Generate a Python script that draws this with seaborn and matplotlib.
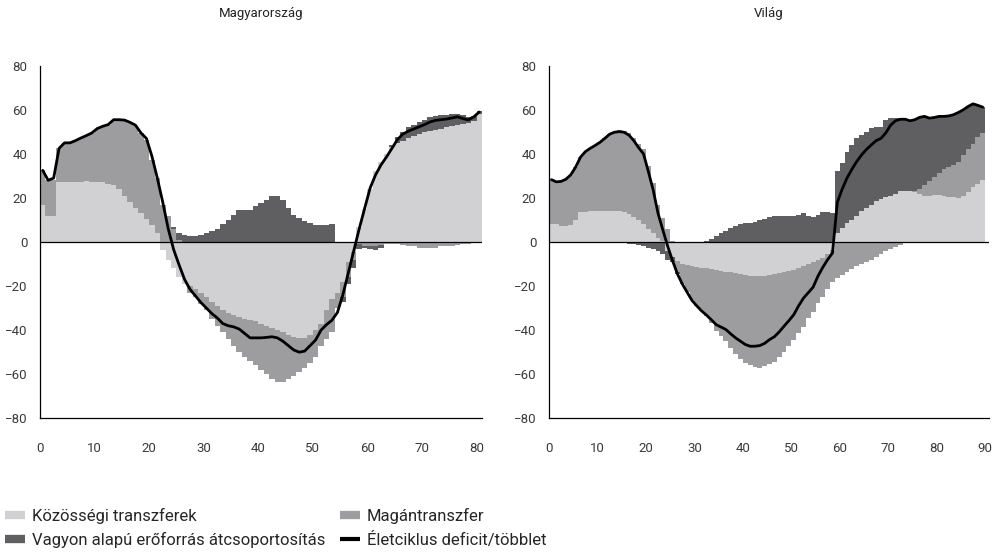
import numpy as np
import pandas as pd
import matplotlib
matplotlib.use("Agg")
import matplotlib.pyplot as plt
import seaborn as sns
from matplotlib.lines import Line2D

# Magyarország, életkor 0-80
hu_age = list(range(81))
hu_public = [17, 12, 12, 27, 27, 27, 27, 27, 27.5, 27,
             27, 27, 26.5, 26, 24, 21, 18, 15.5, 13, 10.5,
             7.5, 4, -3.5, -8, -12, -16, -19, -20, -21.5, -23,
             -25, -27, -29, -31, -32, -33, -34, -35, -35.5, -36,
             -37, -38, -39, -40, -41, -42, -43, -43.5, -43.5, -42,
             -40, -37, -31, -26, -23, -18, -9, -4.5, 7, 15,
             24, 32, 36.5, 40, 43, 45, 46, 47, 48, 49,
             50, 50.5, 51, 51.5, 52, 52.5, 53, 53.5, 54, 55, 58]
hu_private = [15.5, 16, 16, 15.5, 18, 18, 19, 20, 21, 22.5,
              24.5, 25.5, 26.5, 29.5, 31.5, 34, 36, 37, 36.5, 36,
              29.5, 25, 17, 12, 6, 1, 0, -3, -3.5, -5,
              -6, -8, -9, -10, -12, -14, -16, -17, -18.5, -20,
              -21, -22, -23, -23.5, -22.5, -20, -18, -15.5, -13.5, -13,
              -12, -10, -13, -15, -7, -7, -7, -3.5, -1, -2,
              -2, -2, -1.5, -1, -1, -1, -1.5, -2, -2, -2.5,
              -2.5, -2.5, -2.5, -2, -2, -2, -1.5, -1, -1, -0.5, -0.5]
hu_asset = [0, 0, 0, 0, 0, 0, 0, 0, 0, 0,
            0, 0, 0, 0, 0, 0, 0, 0, 0, 0,
            0, 0, 0, 0, 1, 3, 3, 2.5, 2.5, 3,
            4, 5, 6, 8, 10, 12.4, 14.7, 14.7, 14.7, 16.2,
            17.7, 19.2, 21.1, 21.1, 18.9, 15.4, 12.4, 10.9, 9.4, 8.6,
            7.9, 7.9, 7.9, 8.3, 0, -2, -3, -4, -2, -0.5,
            -1, -1.5, -1, 0, 1, 2.5, 4, 5, 5, 5.5,
            5.5, 6, 6, 6, 5.5, 5.5, 5, 4, 2.5, 2, 1.5]
hu_lcd = [32.5, 28, 29, 42.5, 45, 45, 46, 47.2, 48.3, 49.5,
          51.5, 52.5, 53.3, 55.5, 55.5, 55.3, 54.3, 53, 49.5, 47,
          39, 29, 18, 6, -3.5, -10.5, -17, -21.5, -24.5, -27.5,
          -30, -32.5, -34.5, -37, -38, -38.5, -39.5, -41.5, -43.5, -43.5,
          -43.5, -43.3, -43, -43.5, -45, -47, -49, -50, -49.5, -47,
          -44.5, -40, -37.5, -35.5, -32, -24, -14, -4, 6, 15.3,
          24.5, 30.5, 35, 38.6, 42.5, 46.5, 49, 50.3, 51.3, 52.3,
          53.3, 54.5, 55.2, 55.5, 55.8, 56.3, 56.8, 56, 55.4, 56.8, 59]

# Világ, életkor 0-89
wo_age = list(range(90))
wo_public = [8, 8, 7.3, 7.3, 7.5, 10, 13.5, 13.8, 14, 14,
             14, 14, 14, 14.2, 14.2, 13.5, 12.5, 11.5, 10, 8,
             6, 4, 2, 0.5, -4, -7, -8.5, -9.8, -10.3, -10.8,
             -11.3, -11.7, -12, -12.4, -12.8, -13.1, -13.4, -13.8, -14.2, -14.6,
             -15, -15.3, -15.5, -15.5, -15.3, -15, -14.6, -14.1, -13.6, -13.1,
             -12.5, -11.8, -11, -10.2, -9.3, -8.3, -7.2, -5.5, -3.5, 4,
             6.5, 8.5, 10, 12, 14, 15.5, 17, 18.5, 19.5, 20.5,
             21, 22, 23, 23, 23, 22.5, 22, 21, 21, 21.5,
             21.5, 21, 20.5, 20.5, 20, 21, 22.5, 25, 26.5, 28]
wo_private = [20.3, 19.3, 20.2, 21.2, 23, 24, 25, 27.2, 28.5, 29.8,
              31.2, 33, 34.9, 35.6, 36.4, 36.8, 37, 35.5, 34.3, 34,
              28.5, 22.6, 15, 10.4, 6, 0.5, -5, -9.2, -12.5, -15.7,
              -17.7, -19.6, -21.7, -24.4, -27.5, -29.5, -31.5, -34.2, -36.5, -38.4,
              -40, -40.7, -41, -41.5, -41, -40.5, -40, -38.3, -36.2, -34.2,
              -32, -29.5, -27.5, -24.5, -22.5, -19.5, -17.8, -16, -14.5, -16.5,
              -15, -13.5, -12.3, -11, -10, -9, -8, -6.8, -5.5, -4.3,
              -3.2, -2.2, -1.2, 0, 0, 0.5, 2, 5, 6.5, 8,
              10, 12, 13.5, 14.5, 16.5, 18.5, 19.5, 19.5, 21, 21.5]
wo_asset = [0, 0, 0, 0, 0, 0, 0, 0, 0, 0,
            0, 0, 0, 0, -0.5, -0.5, -1, -1, -1.5, -2,
            -2.5, -3, -4, -5.5, -4, -2, -1, 0, 0, 0,
            0, 0, 0.5, 1.5, 2.8, 4, 5.2, 6.3, 7.2, 8,
            8.5, 8.7, 9.2, 10, 10.3, 11.2, 11.6, 11.6, 11.6, 11.6,
            11.6, 12.3, 13, 11.7, 11.3, 12.3, 13.5, 13.5, 13, 28,
            29.3, 32.5, 34.1, 35.1, 34.6, 34.6, 34.6, 33.5, 32.9, 34.9,
            35.2, 34.2, 33.2, 32.7, 32, 32.5, 32.6, 31, 28.7, 27,
            25.5, 24, 23.2, 22.8, 22.3, 20.5, 19.5, 18.2, 14.5, 11.7]
wo_lcd = [28.3, 27.3, 27.5, 28.5, 30.5, 34, 38.5, 41, 42.5, 43.8,
          45.2, 47, 48.9, 49.8, 50.1, 49.8, 48.5, 46, 42.8, 40,
          32, 23.6, 13, 5.4, -2, -8.5, -14.5, -19, -22.8, -26.5,
          -29, -31.3, -33.2, -35.3, -37.5, -38.6, -39.7, -41.7, -43.5, -45,
          -46.5, -47.3, -47.3, -47, -46, -44.3, -43, -40.8, -38.2, -35.7,
          -33, -29, -25.5, -23, -20.5, -15.5, -11.5, -8, -5, 18,
          24, 29, 33, 36.5, 39.5, 42, 44, 46, 47, 49.5,
          53, 55, 55.7, 55.7, 55, 55.5, 56.6, 57, 56.2, 56.5,
          57, 57, 57.2, 57.8, 58.8, 60, 61.5, 62.7, 62, 61.2]

labels = ["Közösségi transzferek", "Magántranszfer",
          "Vagyon alapú erőforrás átcsoportosítás", "Életciklus deficit/többlet"]
colors = ["#d1d1d3", "#9d9d9f", "#5f5f61"]
yticks = [-80, -60, -40, -20, 0, 20, 40, 60, 80]

sns.set_style("white")
plt.rcParams["font.family"] = ["Roboto", "DejaVu Sans"]


def panel(ax, ages, parts, lcd, xmax, xticks):
    ages = np.asarray(ages, float)
    pos = np.zeros(len(ages))
    neg = np.zeros(len(ages))
    # pozitív és negatív részek külön halmozva
    for vals, c in zip(parts, colors):
        v = np.asarray(vals, float)
        base = np.where(v >= 0, pos, neg)
        ax.bar(ages, v, width=1.0, bottom=base, align="edge", color=c,
               linewidth=0, antialiased=False)
        pos += np.clip(v, 0, None)
        neg += np.clip(v, None, 0)
    df = pd.DataFrame({"age": ages + 0.5, "val": lcd})
    sns.lineplot(data=df, x="age", y="val", color="black", lw=2, ax=ax)
    ax.axhline(0, color="black", lw=0.9)
    ax.set_xlim(0, xmax)
    ax.set_ylim(-80, 80)
    ax.set_xticks(xticks)
    ax.set_yticks(yticks)
    ax.set_xlabel(None)
    ax.set_ylabel(None)
    sns.despine(ax=ax)
    for s in ["left", "bottom"]:
        ax.spines[s].set_color("black")
        ax.spines[s].set_linewidth(0.9)
    ax.tick_params(axis="both", direction="out", length=5, width=0.9,
                   color="black", labelcolor="#3a3a3a", labelsize=9.5)
    ax.tick_params(axis="x", pad=12)
    ax.tick_params(axis="y", pad=4)


fig = plt.figure(figsize=(9.92, 5.53), dpi=100)
ax1 = fig.add_axes([40 / 992, 134.7 / 553, 442 / 992, 352.6 / 553])
ax2 = fig.add_axes([549 / 992, 134.7 / 553, 440 / 992, 352.6 / 553])

panel(ax1, hu_age, [hu_public, hu_private, hu_asset], hu_lcd, 81, range(0, 81, 10))
panel(ax2, wo_age, [wo_public, wo_private, wo_asset], wo_lcd, 90.8, range(0, 91, 10))

fig.text(261 / 992, 1 - 14 / 553, "Magyarország", ha="center", va="center",
         fontsize=9.5, color="#222222")
fig.text(769 / 992, 1 - 14 / 553, "Világ", ha="center", va="center",
         fontsize=9.5, color="#222222")

handles = [Line2D([], [], color=colors[0], lw=6, solid_capstyle="butt"),
           Line2D([], [], color=colors[2], lw=6, solid_capstyle="butt"),
           Line2D([], [], color=colors[1], lw=6, solid_capstyle="butt"),
           Line2D([], [], color="black", lw=3, solid_capstyle="butt")]
fig.legend(handles, [labels[0], labels[2], labels[1], labels[3]], ncol=2,
           loc="lower left", bbox_to_anchor=(0.0, 0.0), frameon=False,
           fontsize=12, handlelength=1.2, handletextpad=0.4,
           columnspacing=0.9, labelspacing=0.5, borderaxespad=0.15,
           borderpad=0.15)

fig.savefig("out.png", dpi=100)
